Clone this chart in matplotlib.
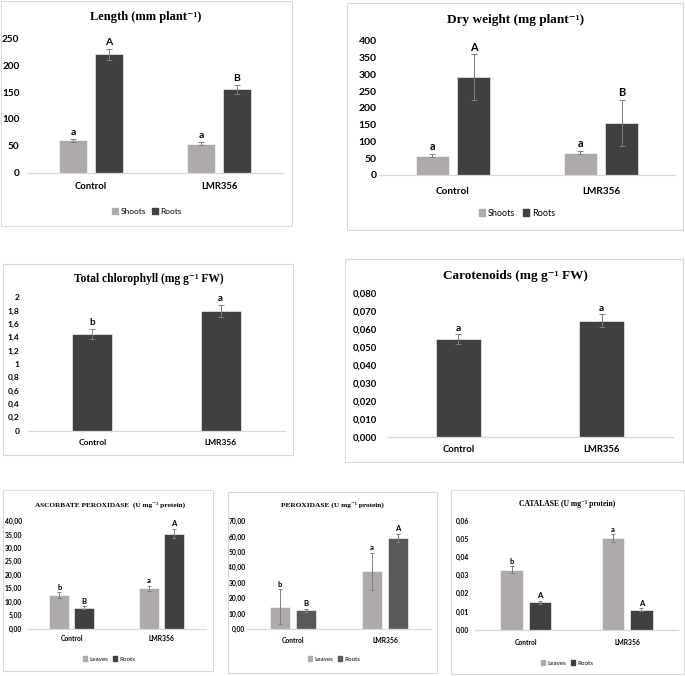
import matplotlib
matplotlib.use("Agg")
import matplotlib.pyplot as plt
from matplotlib.patches import Rectangle
import numpy as np

# ---- data ----
groups = ['Control', 'LMR356']

length_shoots = [60, 54]
length_shoots_err = [3, 3]
length_roots = [220, 155]
length_roots_err = [11, 8]

dry_shoots = [58, 67]
dry_shoots_err = [5, 5]
dry_roots = [291, 155]
dry_roots_err = [68, 69]

chl_total = [1.45, 1.80]
chl_err = [0.075, 0.09]

carot = [0.0544, 0.0648]
carot_err = [0.0028, 0.0035]

apx_leaves = [12.5, 15.0]
apx_leaves_err = [1.0, 1.0]
apx_roots = [7.7, 35.3]
apx_roots_err = [0.5, 1.8]

pod_leaves = [14.5, 37.3]
pod_leaves_err = [11.3, 12.0]
pod_roots = [12.2, 59.0]
pod_roots_err = [1.0, 2.5]

cat_leaves = [0.0330, 0.0505]
cat_leaves_err = [0.0020, 0.0022]
cat_roots = [0.0150, 0.0110]
cat_roots_err = [0.0008, 0.0007]

length_letters = [['a', 'a'], ['A', 'B']]
dry_letters = [['a', 'a'], ['A', 'B']]
chl_letters = ['b', 'a']
carot_letters = ['a', 'a']
apx_letters = [['b', 'a'], ['B', 'A']]
pod_letters = [['b', 'a'], ['B', 'A']]
cat_letters = [['b', 'a'], ['A', 'A']]

LIGHT = '#AEAAAA'
DARK = '#404040'
MID = '#595959'
BORDER = '#D9D9D9'

W, H = 685, 676
fig = plt.figure(figsize=(W / 100, H / 100), dpi=100)

SANS = ['Lato', 'DejaVu Sans']
SERIF = ['Liberation Serif', 'DejaVu Serif']


def box(x0, y0, x1, y1):
    fig.patches.append(Rectangle((x0 / W, 1 - y1 / H), (x1 - x0) / W, (y1 - y0) / H,
                                 transform=fig.transFigure, fill=False,
                                 edgecolor=BORDER, linewidth=0.8))


def px_axes(x0, y0, x1, y1):
    return fig.add_axes([x0 / W, 1 - y1 / H, (x1 - x0) / W, (y1 - y0) / H])


def title(x, y, txt, size):
    fig.text(x / W, 1 - y / H, txt, ha='center', va='center', fontsize=size,
             fontweight='bold', family=SERIF)


def style(ax, ticks, labels, ylim, ysize, xsize, ypad, xpad):
    ax.set_ylim(*ylim)
    ax.set_xlim(-0.5, 1.5)
    ax.set_yticks(ticks)
    ax.set_yticklabels(labels)
    ax.set_xticks([0, 1])
    ax.set_xticklabels(groups)
    for s in ['top', 'right', 'left']:
        ax.spines[s].set_visible(False)
    ax.spines['bottom'].set_color(BORDER)
    ax.spines['bottom'].set_linewidth(0.9)
    ax.tick_params(axis='y', length=0, pad=ypad)
    ax.tick_params(axis='x', length=0, pad=xpad)
    for lab in ax.get_yticklabels():
        lab.set_fontsize(ysize)
        lab.set_fontweight('bold')
        lab.set_family(SANS)
    for lab in ax.get_xticklabels():
        lab.set_fontsize(xsize)
        lab.set_fontweight('bold')
        lab.set_family(SANS)
    ax.patch.set_alpha(0)


def bars(ax, x, vals, errs, color, width, letters, lsize, cap):
    ax.bar(x, vals, width, color=color, edgecolor='white', linewidth=0.4, zorder=2)
    ax.errorbar(x, vals, yerr=errs, fmt='none', ecolor='#7F7F7F', elinewidth=0.7,
                capsize=cap, capthick=0.7, zorder=3)
    for xi, v, e, t in zip(x, vals, errs, letters):
        ax.annotate(t, (xi, v + e), xytext=(0, 1.2), textcoords='offset points',
                    ha='center', va='bottom', fontsize=lsize, fontweight='bold',
                    family=SANS)


def legend(ax, names, colors, cx, cy, size):
    handles = [Rectangle((0, 0), 1, 1, color=c) for c in colors]
    ax.legend(handles, names, loc='center', bbox_to_anchor=(cx / W, 1 - cy / H),
              bbox_transform=fig.transFigure, ncol=2, frameon=False,
              handlelength=0.7, handleheight=0.7, handletextpad=0.3,
              columnspacing=0.8, prop={'size': size, 'family': SANS})


x = np.arange(len(groups))
off, gw, sw = 0.14, 0.22, 0.31

# ---- Length ----
box(1, 1, 292, 226)
ax = px_axes(27, 38.3, 283, 172.7)
bars(ax, x - off, length_shoots, length_shoots_err, LIGHT, gw, length_letters[0], 7.5, 2)
bars(ax, x + off, length_roots, length_roots_err, DARK, gw, length_letters[1], 7.5, 2)
style(ax, np.arange(0, 251, 50), [str(v) for v in range(0, 251, 50)], (0, 250),
      7.2, 6.8, 5.5, 7)
title(146, 17, 'Length (mm plant⁻¹)', 9)
legend(ax, ['Shoots', 'Roots'], [LIGHT, DARK], 147, 211, 6)

# ---- Dry weight ----
box(347, 3, 683, 230)
ax = px_axes(379, 40.7, 675, 175)
bars(ax, x - off, dry_shoots, dry_shoots_err, LIGHT, gw, dry_letters[0], 7.8, 2)
bars(ax, x + off, dry_roots, dry_roots_err, DARK, gw, dry_letters[1], 7.8, 2)
style(ax, np.arange(0, 401, 50), [str(v) for v in range(0, 401, 50)], (0, 400),
      7.5, 7.2, 1.5, 9)
title(516, 20, 'Dry weight (mg plant⁻¹)', 9.5)
legend(ax, ['Shoots', 'Roots'], [LIGHT, DARK], 517, 213, 6.5)

# ---- Total chlorophyll ----
box(3, 264, 293, 455)
ax = px_axes(28, 297.3, 285, 430.7)
bars(ax, x, chl_total, chl_err, DARK, sw, chl_letters, 7, 2)
chl_ticks = np.round(np.arange(0, 2.01, 0.2), 1)
chl_labels = [('%g' % v).replace('.', ',') for v in chl_ticks]
style(ax, chl_ticks, chl_labels, (0, 2), 6, 6, 6, 6)
title(149, 279, 'Total chlorophyll (mg g⁻¹ FW)', 8.3)

# ---- Carotenoids ----
box(345, 259, 683, 462)
ax = px_axes(387, 293.3, 673, 436.7)
bars(ax, x, carot, carot_err, DARK, sw, carot_letters, 7.3, 2)
car_ticks = np.arange(0, 0.0801, 0.01)
car_labels = [('%.3f' % v).replace('.', ',') for v in car_ticks]
style(ax, car_ticks, car_labels, (0, 0.08), 6.8, 6.8, 7, 6)
title(515, 276, 'Carotenoids (mg g⁻¹ FW)', 9.5)

# ---- Ascorbate peroxidase ----
box(3, 490, 213, 671)
ax = px_axes(27, 521, 206, 628.5)
bars(ax, x - off, apx_leaves, apx_leaves_err, LIGHT, gw, apx_letters[0], 5.6, 1.5)
bars(ax, x + off, apx_roots, apx_roots_err, DARK, gw, apx_letters[1], 5.6, 1.5)
apx_ticks = np.arange(0, 40.1, 5)
style(ax, apx_ticks, [('%.2f' % v).replace('.', ',') for v in apx_ticks], (0, 40),
      4.9, 4.9, 3.5, 5)
title(110, 505, 'ASCORBATE PEROXIDASE  (U mg⁻¹ protein)', 5.2)
legend(ax, ['Leaves', 'Roots'], [LIGHT, DARK], 109, 659, 4.5)

# ---- Peroxidase ----
box(228, 492, 437, 673)
ax = px_axes(247, 521, 431, 629)
bars(ax, x - off, pod_leaves, pod_leaves_err, LIGHT, gw, pod_letters[0], 5.6, 1.5)
bars(ax, x + off, pod_roots, pod_roots_err, MID, gw, pod_letters[1], 5.6, 1.5)
pod_ticks = np.arange(0, 70.1, 10)
style(ax, pod_ticks, [('%.2f' % v).replace('.', ',') for v in pod_ticks], (0, 70),
      4.9, 4.9, 1, 6)
title(332, 505, 'PEROXIDASE (U mg⁻¹ protein)', 5.3)
legend(ax, ['Leaves', 'Roots'], [LIGHT, MID], 334, 659, 4.5)

# ---- Catalase ----
box(451, 490, 684, 674)
ax = px_axes(475, 521, 678, 629.5)
bars(ax, x - off, cat_leaves, cat_leaves_err, LIGHT, gw, cat_letters[0], 5.6, 1.5)
bars(ax, x + off, cat_roots, cat_roots_err, DARK, gw, cat_letters[1], 5.6, 1.5)
cat_ticks = np.arange(0, 0.0601, 0.01)
style(ax, cat_ticks, [('%.2f' % v).replace('.', ',') for v in cat_ticks], (0, 0.06),
      4.9, 4.9, 4.5, 7)
title(567, 504, 'CATALASE (U mg⁻¹ protein)', 5.5)
legend(ax, ['Leaves', 'Roots'], [LIGHT, DARK], 567, 663, 4.5)

fig.savefig('out.png', dpi=100, facecolor='white')
